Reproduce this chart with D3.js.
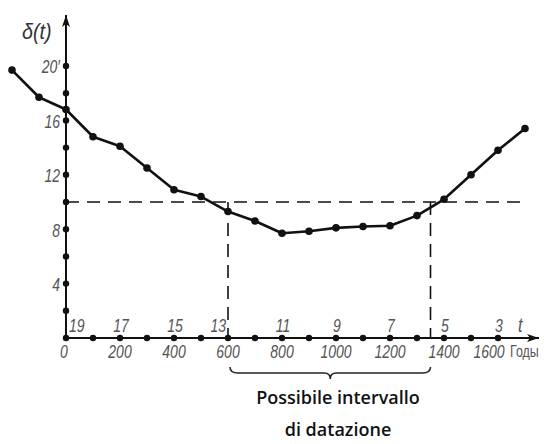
<!DOCTYPE html>
<html lang="en">

<head>
    <meta charset="UTF-8">
    <title>delta(t)</title>
    <style>
        body { margin: 0; background: white; }
    </style>
</head>

<body>
    <script src="https://d3js.org/d3.v7.min.js"></script>
    <script>
        // curve points: year, delta(t)
        const years = [-200, -100, 0, 100, 200, 300, 400, 500, 600, 700, 800, 900, 1000, 1100, 1200, 1300, 1400, 1500, 1600, 1700];
        const delta = [19.7, 17.7, 16.8, 14.8, 14.1, 12.5, 10.9, 10.4, 9.3, 8.6, 7.7, 7.85, 8.1, 8.2, 8.25, 9.0, 10.2, 12.0, 13.8, 15.4];

        const yearTicks = [0, 200, 400, 600, 800, 1000, 1200, 1400, 1600];
        const centuryLabels = ["19", "17", "15", "13", "11", "9", "7", "5", "3"];
        const yTicks = [4, 8, 12, 16, 20];
        const yTickLabels = ["4", "8", "12", "16", "20′"];

        const threshold = 10;
        const interval = [600, 1350];

        const width = 544;
        const height = 444;
        const labelFont = "'Liberation Sans', 'DejaVu Sans', sans-serif";
        const squeeze = 0.78; // fake a condensed drafting font

        const x = d3.scaleLinear().domain([0, 1600]).range([66, 498]);
        const y = d3.scaleLinear().domain([0, 20]).range([338, 66]);

        const svg = d3.select("body").append("svg")
            .attr("width", width)
            .attr("height", height);

        svg.append("defs").append("marker")
            .attr("id", "arrow")
            .attr("viewBox", "0 0 12 8")
            .attr("refX", 12).attr("refY", 4)
            .attr("markerWidth", 12).attr("markerHeight", 8)
            .attr("markerUnits", "userSpaceOnUse")
            .attr("orient", "auto")
            .append("path")
            .attr("d", "M0,0 L12,4 L0,8 L3,4 Z")
            .attr("fill", "#111");

        function label(g, size, italic) {
            return g.attr("font-family", labelFont)
                .attr("font-style", italic ? "italic" : "normal")
                .attr("font-size", size)
                .attr("fill", "#555");
        }
        const at = (px, py) => `translate(${px},${py}) scale(${squeeze},1)`;

        // axes
        svg.append("line")
            .attr("x1", x(0)).attr("x2", x(0))
            .attr("y1", y(0)).attr("y2", 15)
            .attr("stroke", "#111").attr("stroke-width", 2)
            .attr("marker-end", "url(#arrow)");
        svg.append("line")
            .attr("x1", x(0)).attr("x2", 539)
            .attr("y1", y(0)).attr("y2", y(0))
            .attr("stroke", "#111").attr("stroke-width", 2)
            .attr("marker-end", "url(#arrow)");

        // tick dots
        svg.append("g").selectAll("circle")
            .data(d3.range(0, 1601, 100))
            .join("circle")
            .attr("cx", d => x(d)).attr("cy", y(0)).attr("r", 3.2).attr("fill", "#111");
        svg.append("g").selectAll("circle")
            .data(d3.range(2, 21, 2))
            .join("circle")
            .attr("cx", x(0)).attr("cy", d => y(d)).attr("r", 3.2).attr("fill", "#111");

        // tick labels
        const last = yearTicks[yearTicks.length - 1];
        svg.append("g").selectAll("text")
            .data(yearTicks)
            .join("text")
            .attr("transform", d => at(x(d) + (d === 0 ? -2 : d === last ? -9 : 0), 358))
            .attr("text-anchor", "middle")
            .call(label, 18, true)
            .text(d => d);

        svg.append("g").selectAll("text")
            .data(yearTicks)
            .join("text")
            .attr("transform", (d, i) => at(i === 0 ? x(d) + 3 : (d === interval[0] ? x(d) - 2 : x(d) + 1), 332))
            .attr("text-anchor", (d, i) => i === 0 ? "start" : (d === interval[0] ? "end" : "middle"))
            .call(label, 18, true)
            .text((d, i) => centuryLabels[i]);

        svg.append("g").selectAll("text")
            .data(yTicks)
            .join("text")
            .attr("transform", d => at(60, y(d) + 1))
            .attr("dy", "0.35em")
            .attr("text-anchor", "end")
            .call(label, 18, true)
            .text((d, i) => yTickLabels[i]);

        svg.append("text")
            .attr("transform", at(518, 332))
            .call(label, 21, true)
            .text("t");
        svg.append("text")
            .attr("transform", at(510, 357))
            .call(label, 16, false)
            .text("Годы");
        svg.append("text")
            .attr("transform", `translate(22,39) scale(0.9,1)`)
            .call(label, 22, true)
            .attr("fill", "#333")
            .text("δ(t)");

        // dashed reference lines
        const dash = "13,8";
        svg.append("line")
            .attr("x1", x(0)).attr("x2", 525)
            .attr("y1", y(threshold)).attr("y2", y(threshold))
            .attr("stroke", "#111").attr("stroke-width", 1.6)
            .attr("stroke-dasharray", dash);
        svg.append("g").selectAll("line")
            .data(interval)
            .join("line")
            .attr("x1", d => x(d)).attr("x2", d => x(d))
            .attr("y1", y(threshold)).attr("y2", y(0))
            .attr("stroke", "#111").attr("stroke-width", 1.6)
            .attr("stroke-dasharray", dash);

        // curve
        const pts = years.map((t, i) => [t, delta[i]]);
        svg.append("path")
            .datum(pts)
            .attr("fill", "none")
            .attr("stroke", "#111")
            .attr("stroke-width", 2.6)
            .attr("stroke-linejoin", "round")
            .attr("d", d3.line().x(d => x(d[0])).y(d => y(d[1])));
        svg.append("g").selectAll("circle")
            .data(pts)
            .join("circle")
            .attr("cx", d => x(d[0])).attr("cy", d => y(d[1]))
            .attr("r", 3.8).attr("fill", "#111");

        // brace under the interval
        const bx0 = x(interval[0]) + 2, bx1 = x(interval[1]), bm = (bx0 + bx1) / 2;
        const by = 367, bh = 6;
        svg.append("path")
            .attr("d", `M${bx0},${by} Q${bx0},${by + bh} ${bx0 + 8},${by + bh}
                        L${bm - 6},${by + bh} Q${bm},${by + bh} ${bm},${by + bh + 6}
                        Q${bm},${by + bh} ${bm + 6},${by + bh}
                        L${bx1 - 8},${by + bh} Q${bx1},${by + bh} ${bx1},${by}`)
            .attr("fill", "none")
            .attr("stroke", "#222")
            .attr("stroke-width", 1.5);

        svg.append("text")
            .attr("x", 338).attr("y", 404)
            .attr("text-anchor", "middle")
            .attr("font-family", "'Open Sans', 'Noto Sans', sans-serif")
            .attr("font-size", 18).attr("font-weight", 600).attr("fill", "#111")
            .text("Possibile intervallo");
        svg.append("text")
            .attr("x", 338).attr("y", 436)
            .attr("text-anchor", "middle")
            .attr("font-family", "'Open Sans', 'Noto Sans', sans-serif")
            .attr("font-size", 18).attr("font-weight", 600).attr("fill", "#111")
            .text("di datazione");
    </script>
</body>

</html>
